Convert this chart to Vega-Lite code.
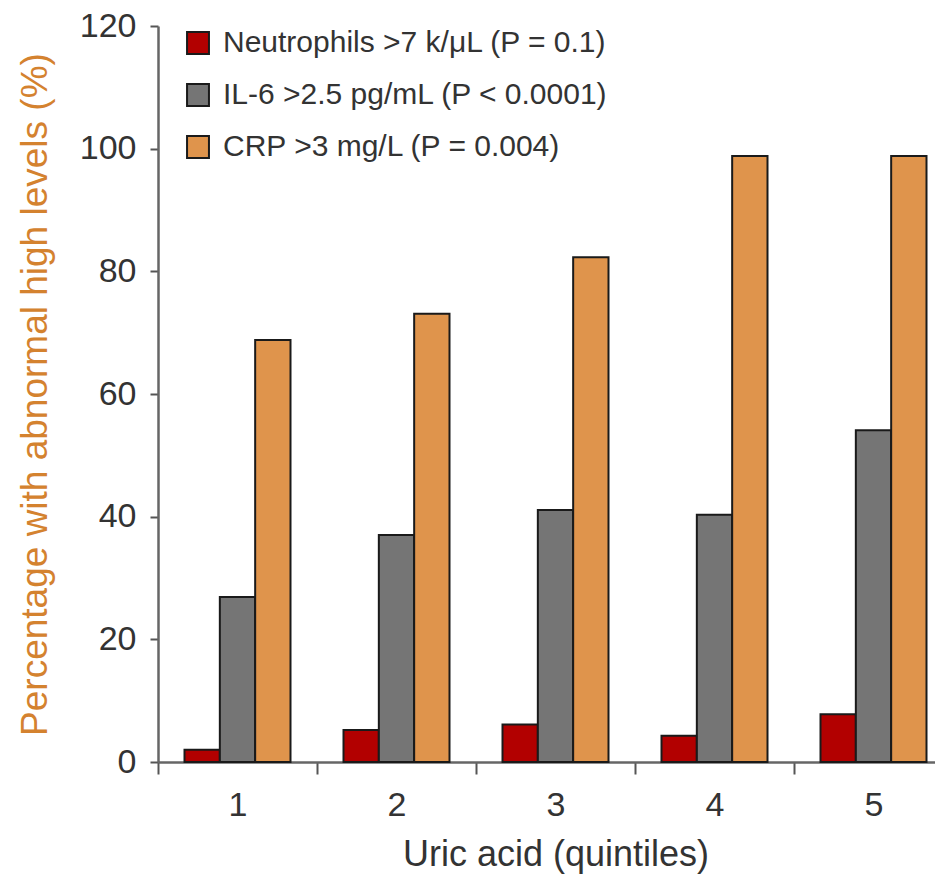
{
  "$schema": "https://vega.github.io/schema/vega-lite/v6.json",
  "width": 795,
  "height": 736,
  "autosize": {"type": "none"},
  "padding": {"left": 158, "top": 26, "right": 0, "bottom": 112},
  "config": {
    "view": {"stroke": null},
    "font": "Liberation Sans",
    "axis": {"grid": false}
  },
  "data": {
    "values": [
      {"quintile": "1", "marker": "Neutrophils >7 k/μL (P = 0.1)", "pct": 2.0},
      {"quintile": "1", "marker": "IL-6 >2.5 pg/mL (P < 0.0001)", "pct": 26.9},
      {"quintile": "1", "marker": "CRP >3 mg/L (P = 0.004)", "pct": 68.8},
      {"quintile": "2", "marker": "Neutrophils >7 k/μL (P = 0.1)", "pct": 5.2},
      {"quintile": "2", "marker": "IL-6 >2.5 pg/mL (P < 0.0001)", "pct": 37.0},
      {"quintile": "2", "marker": "CRP >3 mg/L (P = 0.004)", "pct": 73.1},
      {"quintile": "3", "marker": "Neutrophils >7 k/μL (P = 0.1)", "pct": 6.1},
      {"quintile": "3", "marker": "IL-6 >2.5 pg/mL (P < 0.0001)", "pct": 41.1},
      {"quintile": "3", "marker": "CRP >3 mg/L (P = 0.004)", "pct": 82.3},
      {"quintile": "4", "marker": "Neutrophils >7 k/μL (P = 0.1)", "pct": 4.3},
      {"quintile": "4", "marker": "IL-6 >2.5 pg/mL (P < 0.0001)", "pct": 40.3},
      {"quintile": "4", "marker": "CRP >3 mg/L (P = 0.004)", "pct": 98.8},
      {"quintile": "5", "marker": "Neutrophils >7 k/μL (P = 0.1)", "pct": 7.8},
      {"quintile": "5", "marker": "IL-6 >2.5 pg/mL (P < 0.0001)", "pct": 54.1},
      {"quintile": "5", "marker": "CRP >3 mg/L (P = 0.004)", "pct": 98.8}
    ]
  },
  "mark": {"type": "bar", "stroke": "#1a1a1a", "strokeWidth": 2},
  "encoding": {
    "x": {
      "field": "quintile",
      "type": "ordinal",
      "scale": {"paddingInner": 0, "paddingOuter": 0},
      "axis": {
        "title": "Uric acid (quintiles)",
        "labelAngle": 0,
        "tickBand": "extent",
        "tickSize": 12,
        "tickWidth": 2,
        "tickColor": "#555555",
        "domainColor": "#666666",
        "domainWidth": 2.5,
        "labelFontSize": 34,
        "labelColor": "#333333",
        "labelPadding": 14,
        "titleFontSize": 36,
        "titleFontWeight": "normal",
        "titleColor": "#333333",
        "titlePadding": 15
      }
    },
    "xOffset": {
      "field": "marker",
      "type": "nominal",
      "sort": ["Neutrophils >7 k/μL (P = 0.1)", "IL-6 >2.5 pg/mL (P < 0.0001)", "CRP >3 mg/L (P = 0.004)"],
      "scale": {"paddingInner": 0, "paddingOuter": 0.75}
    },
    "y": {
      "field": "pct",
      "type": "quantitative",
      "scale": {"domain": [0, 120], "nice": false},
      "axis": {
        "title": "Percentage with abnormal high levels (%)",
        "values": [0, 20, 40, 60, 80, 100, 120],
        "tickSize": 8,
        "tickWidth": 2,
        "tickColor": "#555555",
        "domainColor": "#666666",
        "domainWidth": 2.5,
        "labelFontSize": 34,
        "labelColor": "#333333",
        "labelPadding": 14,
        "titleFontSize": 37,
        "titleFontWeight": "normal",
        "titleColor": "#d4822f",
        "titlePadding": 25
      }
    },
    "color": {
      "field": "marker",
      "type": "nominal",
      "sort": ["Neutrophils >7 k/μL (P = 0.1)", "IL-6 >2.5 pg/mL (P < 0.0001)", "CRP >3 mg/L (P = 0.004)"],
      "scale": {
        "domain": ["Neutrophils >7 k/μL (P = 0.1)", "IL-6 >2.5 pg/mL (P < 0.0001)", "CRP >3 mg/L (P = 0.004)"],
        "range": ["#b20000", "#757575", "#df944c"]
      },
      "legend": {
        "title": null,
        "orient": "none",
        "legendX": 25,
        "legendY": 2,
        "symbolType": "square",
        "symbolSize": 480,
        "symbolStrokeColor": "#1a1a1a",
        "symbolStrokeWidth": 2,
        "symbolOpacity": 1,
        "labelFontSize": 30,
        "labelColor": "#333333",
        "labelOffset": 10,
        "labelLimit": 700,
        "rowPadding": 22
      }
    }
  }
}
